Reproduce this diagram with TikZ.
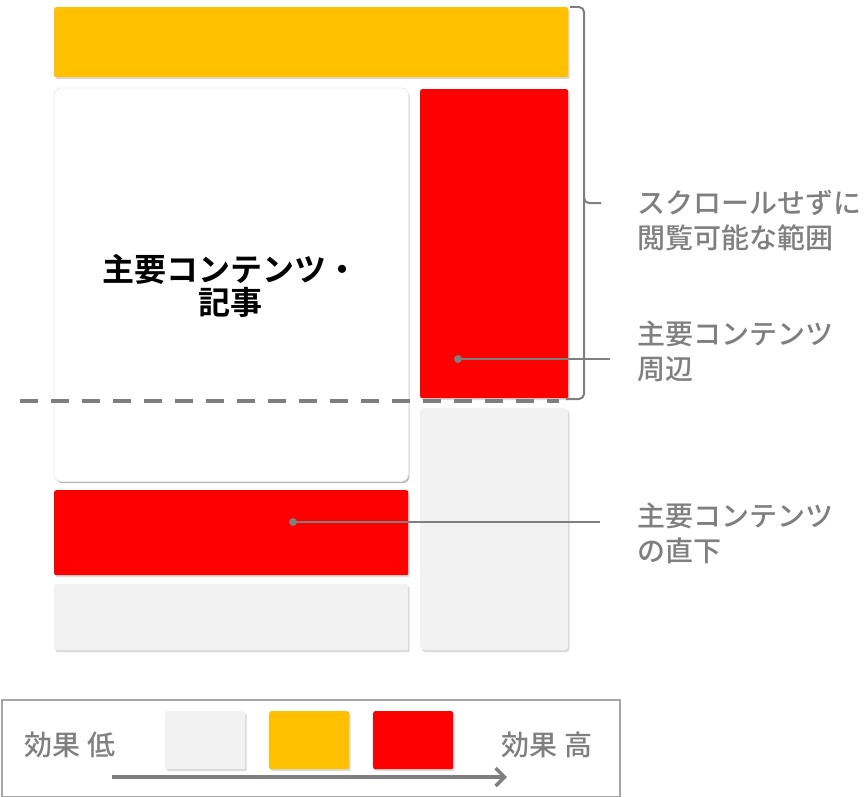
\documentclass[tikz,border=0pt]{standalone}
\usepackage{fontspec}
\setmainfont{Noto Sans CJK JP}[BoldFont={Noto Sans CJK JP Bold}]
\newfontfamily\medfont{Noto Sans CJK JP Medium}
\usetikzlibrary{shadows,arrows.meta}
\definecolor{cOrange}{HTML}{FFC000}
\definecolor{cRed}{HTML}{FF0000}
\definecolor{cLight}{HTML}{F2F2F2}
\definecolor{cText}{HTML}{7F7F7F}
\definecolor{cFrame}{HTML}{A6A6A6}
\tikzset{
  blk/.style={rectangle, anchor=north west, inner sep=0pt, draw=none, rounded corners=2pt,
    drop shadow={opacity=0.3, shadow xshift=1.5pt, shadow yshift=-2pt}},
  lbl/.style={anchor=west, text=cText, font=\medfont\fontsize{28}{35}\selectfont, align=left, inner sep=0pt},
  con/.style={draw=cText, line width=2pt},
  dotn/.style={circle, fill=cText, inner sep=0pt, minimum size=8pt},
}
\begin{document}
\begin{tikzpicture}[x=1pt,y=-1pt]
\useasboundingbox (0,0) rectangle (864,797);
% blocks
\node[blk, fill=cOrange, minimum width=514pt, minimum height=70pt] (hdr) at (54,7) {};
\node[blk, fill=white, rounded corners=7pt, minimum width=354pt, minimum height=393pt,
  drop shadow={opacity=0.35, shadow xshift=1pt, shadow yshift=-2pt}] (main) at (54,88) {};
\draw[black!8, line width=0.8pt, rounded corners=7pt] (main.north west) rectangle (main.south east);
\node[blk, fill=cRed, minimum width=148pt, minimum height=309pt] (side) at (420,89) {};
\node[blk, fill=cLight, rounded corners=4pt, minimum width=148pt, minimum height=242pt] (sidelow) at (420,408) {};
\node[blk, fill=cRed, minimum width=354pt, minimum height=85pt] (below) at (54,490) {};
\node[blk, fill=cLight, minimum width=354pt, minimum height=66pt] (bottom) at (54,584) {};
\node[font=\bfseries\fontsize{32}{33}\selectfont, align=center, inner sep=0pt] (maintxt) at (230,286) {主要コンテンツ・\\記事};
% fold line
\coordinate (foldL) at (20,401);
\coordinate (foldR) at (559,401);
\draw[cText, line width=4pt, dash pattern=on 18pt off 13pt] (foldL) -- (foldR);
% bracket
\coordinate (brT) at (570,7);
\coordinate (brB) at (566,399);
\coordinate (brTip) at (601,203);
\draw[cText, line width=2pt, rounded corners=5pt] (brT) -- (584,7) -- (584,203) -- (brTip);
\draw[cText, line width=2pt, rounded corners=5pt] (584,198) -- (584,399) -- (brB);
% labels
\node[lbl] (l1) at (637,220) {スクロールせずに\\閲覧可能な範囲};
\node[lbl] (l2) at (637,351) {主要コンテンツ\\周辺};
\node[lbl] (l3) at (637,533) {主要コンテンツ\\の直下};
% connectors
\node[dotn] (d1) at (458,359) {};
\coordinate (e1) at (610,359);
\draw[con] (d1.center) -- (e1);
\node[dotn] (d2) at (293,522) {};
\coordinate (e2) at (600,522);
\draw[con] (d2.center) -- (e2);
% legend
\node[rectangle, draw=cFrame, line width=1.5pt, anchor=north west, minimum width=618pt, minimum height=97pt, inner sep=0pt] (leg) at (1,699) {};
\node[blk, fill=cLight, minimum width=80pt, minimum height=58pt] (s1) at (165,711) {};
\node[blk, fill=cOrange, minimum width=80pt, minimum height=58pt] (s2) at (269,711) {};
\node[blk, fill=cRed, minimum width=80pt, minimum height=58pt] (s3) at (373,711) {};
\node[text=cText, font=\medfont\fontsize{28}{30}\selectfont, inner sep=0pt] (lo) at (70,745) {効果 低};
\node[text=cText, font=\medfont\fontsize{28}{30}\selectfont, inner sep=0pt] (hi) at (547,745) {効果 高};
\coordinate (aS) at (112,777);
\coordinate (aE) at (507,777);
\draw[cText, line width=3.5pt, -{Straight Barb[length=9pt, width=18pt, line width=3.5pt]}] (aS) -- (aE);
\end{tikzpicture}
\end{document}
